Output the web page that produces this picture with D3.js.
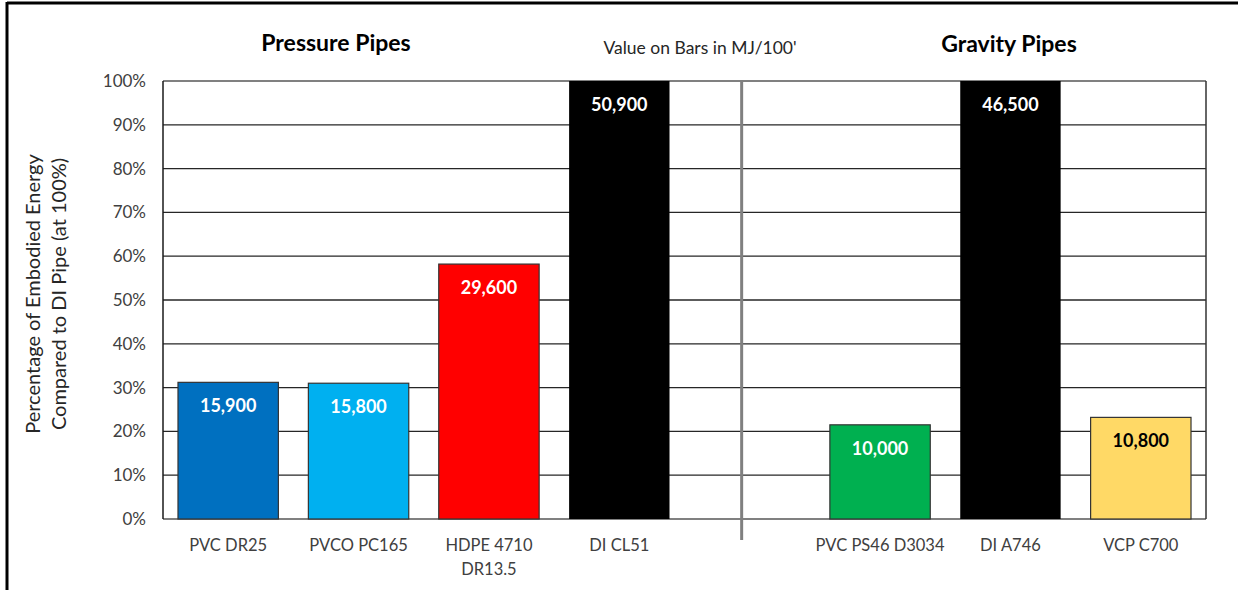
<!DOCTYPE html>
<html lang="en">
    <head>
        <meta charset="utf-8">
        <title>Embodied energy of pipes</title>
        <script type="text/javascript" src="https://cdn.jsdelivr.net/npm/d3@7"></script>
        <style>
            body { margin: 0; background: #fff; }
            text { font-family: Lato, "Open Sans", sans-serif; }
        </style>
    </head>
    <body>
        <div class="chart"></div>
        <script type="text/javascript">
            // categories, "gap" is the empty slot between the two groups
            var categories = ["PVC DR25", "PVCO PC165", "HDPE 4710|DR13.5", "DI CL51", "gap",
                              "PVC PS46 D3034", "DI A746", "VCP C700"];
            // percent of DI pipe
            var percents = [31.2, 31.0, 58.2, 100, null, 21.5, 100, 23.2];
            // value printed on each bar, MJ/100'
            var barLabels = ["15,900", "15,800", "29,600", "50,900", "", "10,000", "46,500", "10,800"];
            var barColors = ["#0070C0", "#00B0F0", "#FF0000", "#000000", "none", "#00B050", "#000000", "#FFD966"];
            var labelColors = ["#fff", "#fff", "#fff", "#fff", "#fff", "#fff", "#fff", "#000"];
            var yTicks = [0, 10, 20, 30, 40, 50, 60, 70, 80, 90, 100];

            var w = 1238, h = 590;
            var pLeft = 163, pRight = 1206, pTop = 81, pBottom = 519;

            var svg = d3.select("div.chart")
                        .append("svg")
                        .attr("width", w)
                        .attr("height", h);

            // outer frame (top and left edges visible)
            svg.append("line").attr("x1", 7).attr("x2", w).attr("y1", 3).attr("y2", 3)
               .attr("stroke", "#000").attr("stroke-width", 3);
            svg.append("line").attr("x1", 7).attr("x2", 7).attr("y1", 2).attr("y2", h)
               .attr("stroke", "#000").attr("stroke-width", 3);

            var x = d3.scaleBand().domain(categories).range([pLeft, pRight]).paddingInner(0.23).paddingOuter(0.115);
            var y = d3.scaleLinear().domain([0, 100]).range([pBottom, pTop]);

            // gridlines
            svg.append("g")
               .selectAll("line")
               .data(yTicks)
               .enter()
               .append("line")
               .attr("x1", pLeft).attr("x2", pRight)
               .attr("y1", function(d){return y(d);})
               .attr("y2", function(d){return y(d);})
               .attr("stroke", function(d){return (d == 0 || d == 100) ? "#808080" : "#262626";})
               .attr("stroke-width", function(d){return (d == 0 || d == 100) ? 2 : 1.3;});

            // plot side lines
            svg.append("line").attr("x1", pLeft).attr("x2", pLeft).attr("y1", pTop).attr("y2", pBottom)
               .attr("stroke", "#1a1a1a").attr("stroke-width", 1.5);
            svg.append("line").attr("x1", pRight).attr("x2", pRight).attr("y1", pTop).attr("y2", pBottom)
               .attr("stroke", "#333").attr("stroke-width", 1.5);

            // y tick labels
            svg.append("g")
               .selectAll("text")
               .data(yTicks)
               .enter()
               .append("text")
               .attr("x", 146)
               .attr("y", function(d){return y(d) + 6;})
               .attr("text-anchor", "end")
               .attr("font-size", "17px")
               .attr("fill", "#404040")
               .text(function(d){return d + "%";});

            // bars
            var data = categories.map(function(c, i){return {cat: c, p: percents[i], i: i};})
                                 .filter(function(d){return d.p != null;});
            svg.append("g")
               .selectAll("rect")
               .data(data)
               .enter()
               .append("rect")
               .attr("x", function(d){return x(d.cat);})
               .attr("y", function(d){return y(d.p);})
               .attr("width", x.bandwidth())
               .attr("height", function(d){return y(0) - y(d.p);})
               .attr("fill", function(d){return barColors[d.i];})
               .attr("stroke", function(d){return barColors[d.i] == "#000000" ? "none" : "#333";})
               .attr("stroke-width", 1.2);

            // values on bars
            svg.append("g")
               .selectAll("text")
               .data(data)
               .enter()
               .append("text")
               .attr("x", function(d){return x(d.cat) + x.bandwidth() / 2;})
               .attr("y", function(d){return y(d.p) + 30;})
               .attr("text-anchor", "middle")
               .attr("font-size", "18px")
               .attr("font-weight", "bold")
               .attr("fill", function(d){return labelColors[d.i];})
               .text(function(d){return barLabels[d.i];});

            // category labels
            var xl = svg.append("g")
               .selectAll("text")
               .data(categories.filter(function(c){return c != "gap";}))
               .enter()
               .append("text")
               .attr("text-anchor", "middle")
               .attr("font-size", "16.5px")
               .attr("fill", "#404040");
            xl.each(function(c){
                var t = d3.select(this);
                c.split("|").forEach(function(line, k){
                    t.append("tspan")
                     .attr("x", x(c) + x.bandwidth() / 2)
                     .attr("y", 551 + k * 24)
                     .text(line);
                });
            });

            // separator between pressure and gravity pipes
            var sepX = x("gap") + x.bandwidth() * 0.42;
            svg.append("line").attr("x1", sepX).attr("x2", sepX).attr("y1", pTop - 1).attr("y2", 540)
               .attr("stroke", "#808080").attr("stroke-width", 3);

            // titles
            svg.append("text").attr("x", 336).attr("y", 51).attr("text-anchor", "middle")
               .attr("font-size", "23px").attr("font-weight", "bold").attr("fill", "#000")
               .text("Pressure Pipes");
            svg.append("text").attr("x", 1009).attr("y", 52).attr("text-anchor", "middle")
               .attr("font-size", "23px").attr("font-weight", "bold").attr("fill", "#000")
               .text("Gravity Pipes");
            svg.append("text").attr("x", 700).attr("y", 54).attr("text-anchor", "middle")
               .attr("font-size", "17.5px").attr("fill", "#262626")
               .text("Value on Bars in MJ/100'");

            // y axis title
            var yt = svg.append("text")
               .attr("transform", "translate(40," + ((pTop + pBottom) / 2 - 6) + ") rotate(-90)")
               .attr("text-anchor", "middle")
               .attr("font-size", "20px")
               .attr("fill", "#262626");
            yt.append("tspan").attr("x", 0).attr("y", 0).text("Percentage of Embodied Energy");
            yt.append("tspan").attr("x", 0).attr("y", 26).text("Compared to DI Pipe (at 100%)");
        </script>
    </body>
</html>
